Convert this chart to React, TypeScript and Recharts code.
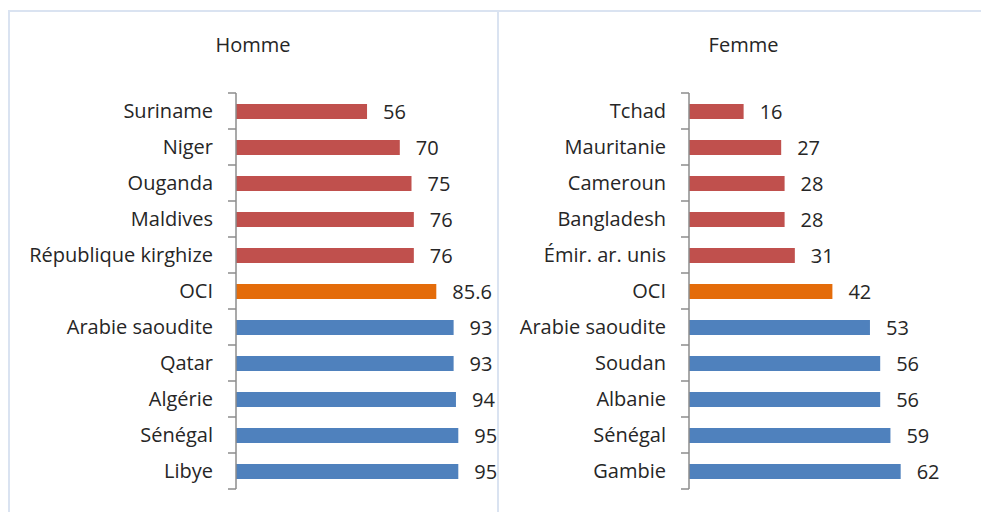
import { BarChart, Bar, XAxis, YAxis, LabelList, Cell } from 'recharts';

const hommeCountries = ['Suriname', 'Niger', 'Ouganda', 'Maldives', 'République kirghize', 'OCI', 'Arabie saoudite', 'Qatar', 'Algérie', 'Sénégal', 'Libye'];
const hommeValues = [56, 70, 75, 76, 76, 85.6, 93, 93, 94, 95, 95];

const femmeCountries = ['Tchad', 'Mauritanie', 'Cameroun', 'Bangladesh', 'Émir. ar. unis', 'OCI', 'Arabie saoudite', 'Soudan', 'Albanie', 'Sénégal', 'Gambie'];
const femmeValues = [16, 27, 28, 28, 31, 42, 53, 56, 56, 59, 62];

// groupe de chaque barre : bas, moyenne OCI, haut
const groups = ['low', 'low', 'low', 'low', 'low', 'oci', 'high', 'high', 'high', 'high', 'high'];

const COLORS: Record<string, string> = { low: '#C0504D', oci: '#E46C0A', high: '#4F81BD' };
const FONT = '"Open Sans", sans-serif';
const TEXT = '#262626';
const AXIS = '#8c8c8c';
const BORDER = '#DAE3F1';

const CH = 502;
const M_TOP = 83;
const M_BOTTOM = 23;
const BAND = (CH - M_TOP - M_BOTTOM) / hommeCountries.length;
const TICK = 8;
const GAP = 15;

// étiquette + petite graduation Excel entre les catégories
function CatTick(props: any) {
  const { x, y, payload, index, count } = props;
  const ax = x + TICK + GAP;
  return (
    <g>
      <text x={x} y={y} dy="0.355em" textAnchor="end" fill={TEXT} fontSize={20} fontFamily={FONT}>{payload.value}</text>
      <line x1={ax - TICK} x2={ax} y1={y - BAND / 2} y2={y - BAND / 2} stroke={AXIS} strokeWidth={1.5} />
      {index === count - 1 && (
        <line x1={ax - TICK} x2={ax} y1={y + BAND / 2} y2={y + BAND / 2} stroke={AXIS} strokeWidth={1.5} />
      )}
    </g>
  );
}

function Panel({ title, names, values, max, width, yWidth, right, titleShift = 0 }: {
  title: string; names: string[]; values: number[]; max: number; width: number; yWidth: number; right: number; titleShift?: number;
}) {
  const data = names.map((name, i) => ({ name, value: values[i], group: groups[i] }));
  return (
    <div style={{ position: 'relative', width, height: CH }}>
      <div style={{ position: 'absolute', top: 21, left: titleShift, width, textAlign: 'center', fontFamily: FONT, fontSize: 20, color: TEXT }}>
        {title}
      </div>
      <BarChart width={width} height={CH} data={data} layout="vertical" barSize={15}
        margin={{ top: M_TOP, right, bottom: M_BOTTOM, left: 0 }}>
        <XAxis type="number" domain={[0, max]} hide />
        <YAxis type="category" dataKey="name" width={yWidth} interval={0}
          axisLine={{ stroke: AXIS, strokeWidth: 1.5 }} tickLine={false} tickSize={TICK} tickMargin={GAP}
          tick={(p: any) => <CatTick {...p} count={names.length} />} />
        <Bar dataKey="value" isAnimationActive={false}>
          {data.map((d, i) => <Cell key={i} fill={COLORS[d.group]} />)}
          <LabelList dataKey="value" position="right" offset={16} fill={TEXT} fontSize={20} fontFamily={FONT} />
        </Bar>
      </BarChart>
    </div>
  );
}

export default function App() {
  return (
    <div style={{ position: 'absolute', left: 0, top: 0, width: 981, height: 512, overflow: 'hidden', background: '#fff' }}>
      <div style={{ position: 'absolute', left: 8, top: 10, width: 491, height: 520, border: `2px solid ${BORDER}`, boxSizing: 'border-box' }} />
      <div style={{ position: 'absolute', left: 497, top: 10, width: 500, height: 520, border: `2px solid ${BORDER}`, boxSizing: 'border-box' }} />
      <div style={{ position: 'absolute', left: 8, top: 10 }}>
        <Panel title="Homme" names={hommeCountries} values={hommeValues} max={100} width={490} yWidth={228} right={28} />
      </div>
      <div style={{ position: 'absolute', left: 498, top: 10 }}>
        <Panel title="Femme" names={femmeCountries} values={femmeValues} max={70} width={483} yWidth={191} right={53} titleShift={4} />
      </div>
    </div>
  );
}
